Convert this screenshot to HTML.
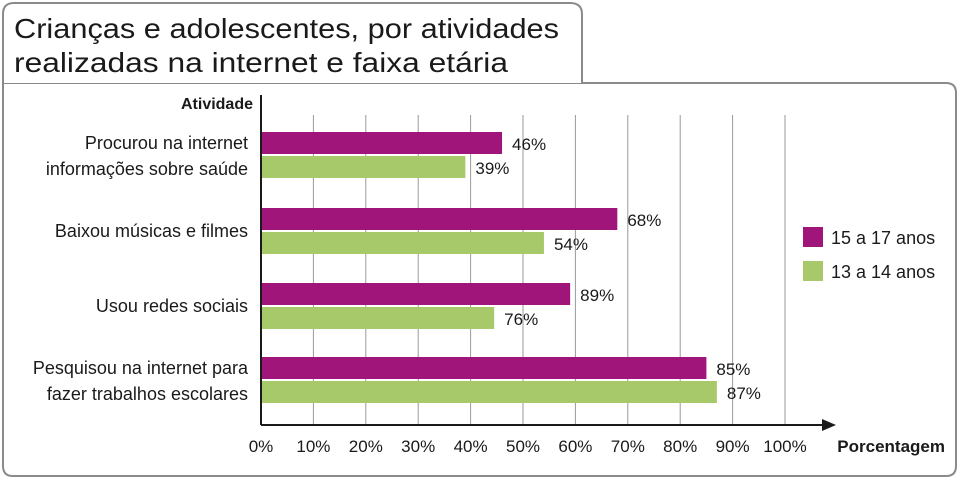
<!DOCTYPE html>
<html><head><meta charset="utf-8"><style>
body{margin:0;width:958px;height:478px;background:#fff;overflow:hidden;font-family:"Liberation Sans",sans-serif;}
svg{display:block}
</style></head><body>
<svg width="958" height="478">
<path d="M3,83 H946 Q956,83 956,93 V466 Q956,476 946,476 H13 Q3,476 3,466 Z" fill="#fff" stroke="#8a8a8a" stroke-width="2"/>
<path d="M3,83 V14 Q3,3 14,3 H570 Q582,3 582,14 V83" fill="#fff" stroke="#8a8a8a" stroke-width="2"/>
<text x="14" y="38" font-size="28" fill="#1a1a1a" textLength="545" lengthAdjust="spacingAndGlyphs">Crianças e adolescentes, por atividades</text>
<text x="14" y="72" font-size="28" fill="#1a1a1a" textLength="494" lengthAdjust="spacingAndGlyphs">realizadas na internet e faixa etária</text>
<g id="grid"></g>
<g id="bars"></g>
<text x="253" y="109" font-size="16" font-weight="bold" text-anchor="end" fill="#1a1a1a">Atividade</text>
<line x1="261" y1="95" x2="261" y2="425" stroke="#1a1a1a" stroke-width="2"/>
<line x1="261" y1="425" x2="825" y2="425" stroke="#1a1a1a" stroke-width="2"/>
<polygon points="836,425 822,419 822,431" fill="#1a1a1a"/>
<text x="945" y="452" font-size="17" font-weight="bold" text-anchor="end" fill="#1a1a1a">Porcentagem</text>
<rect x="803" y="227" width="20" height="20" fill="#a0157a"/>
<text x="831" y="244" font-size="18" fill="#1a1a1a">15 a 17 anos</text>
<rect x="803" y="261" width="20" height="20" fill="#a8c96a"/>
<text x="831" y="278" font-size="18" fill="#1a1a1a">13 a 14 anos</text>
</svg>
<script>
const categories=[["Procurou na internet","informações sobre saúde"],["Baixou músicas e filmes"],["Usou redes sociais"],["Pesquisou na internet para","fazer trabalhos escolares"]];
const older=[46,68,59,85];
const younger=[39,54,44.5,87];
const olderLabels=["46%","68%","89%","85%"];
const youngerLabels=["39%","54%","76%","87%"];
const ticks=[0,10,20,30,40,50,60,70,80,90,100];
const NS="http://www.w3.org/2000/svg";
const x0=261,x100=785;
const xs=v=>x0+(x100-x0)*v/100;
const groupTop=[132,208,283,357];
const bh=22;
function mk(t,a,parent){const e=document.createElementNS(NS,t);for(const k in a)e.setAttribute(k,a[k]);parent.appendChild(e);return e;}
const grid=document.getElementById('grid'),bars=document.getElementById('bars');
ticks.forEach(t=>{
  if(t>0){const l=mk('line',{x1:xs(t),x2:xs(t),y1:115,y2:425,stroke:'#9a9a9a','stroke-width':1},grid);
  
  }
  const tx=mk('text',{x:xs(t),y:452,'font-size':17,'text-anchor':'middle',fill:'#1a1a1a'},grid);
  tx.textContent=t+'%';
  
  
});
categories.forEach((c,i)=>{
  const y=groupTop[i];
  const b1=mk('rect',{x:x0,y:y,width:xs(older[i])-x0,height:bh,fill:'#a0157a'},bars);
  
  
  const b2=mk('rect',{x:x0,y:y+bh+2,width:xs(younger[i])-x0,height:bh,fill:'#a8c96a'},bars);
  
  
  const l1=mk('text',{x:xs(older[i])+10,y:y+18,'font-size':17,fill:'#1a1a1a'},bars);
  l1.textContent=olderLabels[i];
  
  
  const l2=mk('text',{x:xs(younger[i])+10,y:y+bh+20,'font-size':17,fill:'#1a1a1a'},bars);
  l2.textContent=youngerLabels[i];
  
  
  const cy=y+bh+1;
  c.forEach((line,j)=>{
    const ty=c.length===1?cy+6:cy-6+(j*26);
    const t=mk('text',{x:248,y:ty,'font-size':18,'text-anchor':'end',fill:'#1a1a1a'},bars);
    t.textContent=line;
    
    
  });
});
</script>
</body></html>
